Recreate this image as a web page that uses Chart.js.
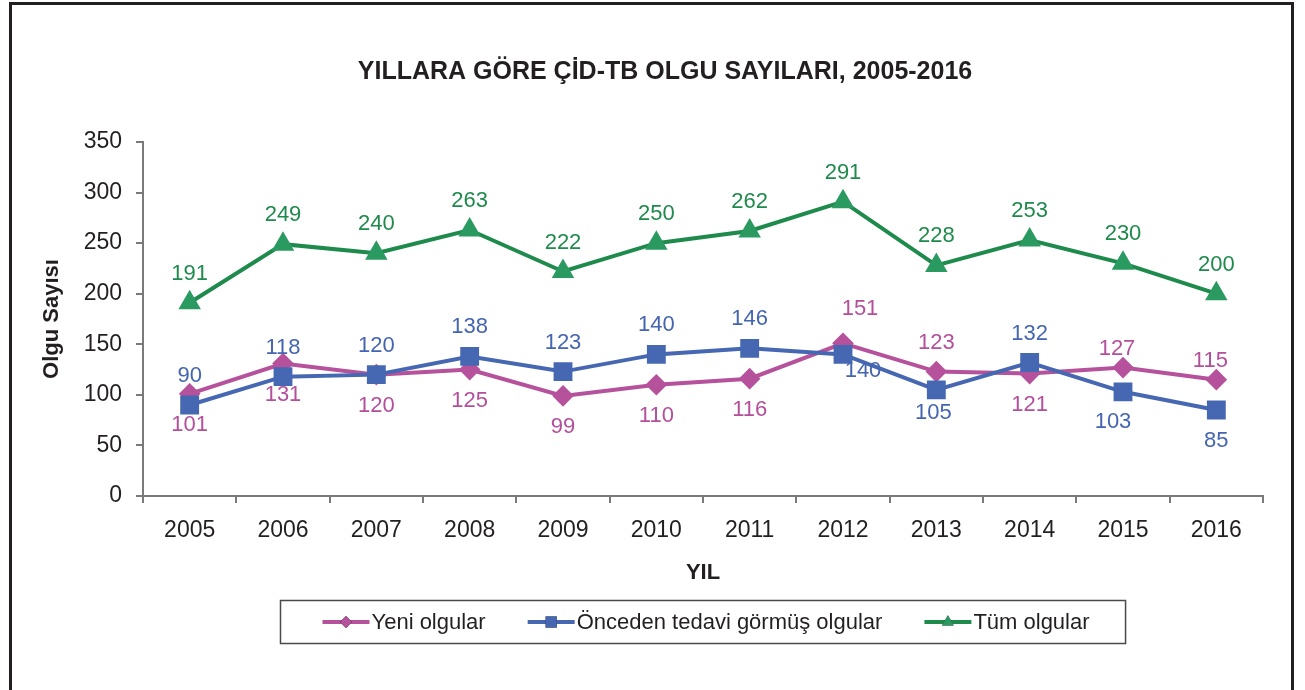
<!DOCTYPE html>
<html lang="tr">
<head>
  <meta charset="UTF-8" />
  <title>Yıllara Göre ÇİD-TB Olgu Sayıları</title>
  <script src="https://cdn.jsdelivr.net/npm/chart.js"></script>
  <style>
    html, body { margin: 0; padding: 0; background: #fff; }
    #olguChart { display: block; }
  </style>
</head>
<body>
  <canvas id="olguChart" width="1305" height="690"></canvas>

  <script>
    // Veriler
    const YILLAR  = ['2005','2006','2007','2008','2009','2010','2011','2012','2013','2014','2015','2016'];
    const YENI    = [101, 131, 120, 125,  99, 110, 116, 151, 123, 121, 127, 115];
    const ONCEDEN = [ 90, 118, 120, 138, 123, 140, 146, 140, 105, 132, 103,  85];
    const TUM     = [191, 249, 240, 263, 222, 250, 262, 291, 228, 253, 230, 200];
    const Y_TICKS = [0, 50, 100, 150, 200, 250, 300, 350];
    const BASLIK  = 'YILLARA GÖRE ÇİD-TB OLGU SAYILARI, 2005-2016';

    // Etiket yerleri: a = üstte, b = altta, ar/br/al/bl = yana kaymış
    const YENI_YER    = ['b','b','b','b','b','b','b','ar','a','b','al','al'];
    const ONCEDEN_YER = ['a','a','a','a','a','a','a','br','bn','a','bl','b'];
    const TUM_YER     = ['a','a','a','a','a','a','a','a','a','a','a','a'];
    const YER = {
      a: [0, -29], b: [0, 31],
      ar: [17, -34], br: [20, 17],
      al: [-6, -19], bl: [-10, 30], bn: [-3, 23]
    };

    const YAZI = '"Liberation Sans", Arial, sans-serif';
    const KOYU = '#231f20';
    const EKSEN = '#7a7a7a';

    // dış çerçeve + başlık
    const cerceve = {
      id: 'cerceve',
      beforeDraw(chart) {
        const c = chart.ctx;
        c.save();
        c.fillStyle = '#fff';
        c.fillRect(0, 0, chart.width, chart.height);
        c.strokeStyle = KOYU;
        c.lineWidth = 3;
        c.strokeRect(10.5, 3.5, 1282, 740);
        c.fillStyle = KOYU;
        c.font = 'bold 25px ' + YAZI;
        c.textAlign = 'center';
        c.textBaseline = 'middle';
        c.fillText(BASLIK, 665, 72);
        c.restore();
      }
    };

    // veri etiketleri
    const etiketler = {
      id: 'etiketler',
      afterDatasetsDraw(chart) {
        const c = chart.ctx;
        c.save();
        c.font = '22px ' + YAZI;
        c.textAlign = 'center';
        c.textBaseline = 'middle';
        chart.data.datasets.forEach((ds, i) => {
          const meta = chart.getDatasetMeta(i);
          c.fillStyle = ds.etiketRenk;
          meta.data.forEach((pt, j) => {
            const [dx, dy] = YER[ds.yerler[j]];
            c.fillText(ds.data[j], pt.x + dx, pt.y + dy);
          });
        });
        c.restore();
      }
    };

    // çerçeveli açıklama kutusu
    const aciklama = {
      id: 'aciklama',
      afterDraw(chart) {
        const c = chart.ctx, a = chart.chartArea;
        c.save();
        c.font = '22px ' + YAZI;
        const cizgi = 47, ara = 2, bosluk = 42, solIc = 42, sagIc = 36;
        const dsler = chart.data.datasets;
        const gen = dsler.map(ds => cizgi + ara + c.measureText(ds.label).width);
        const toplam = gen.reduce((s, w) => s + w, 0) + bosluk * (gen.length - 1);
        const kw = toplam + solIc + sagIc;
        const kx = Math.round((a.left + a.right) / 2 - kw / 2) + 0.5;
        const ky = chart.height - 89.5, kh = 43;
        c.strokeStyle = '#4a4a4a';
        c.lineWidth = 1.5;
        c.strokeRect(kx, ky, kw, kh);

        let x = kx + solIc;
        const y = ky + kh / 2;
        dsler.forEach((ds, i) => {
          c.strokeStyle = ds.borderColor;
          c.lineWidth = 4;
          c.beginPath();
          c.moveTo(x, y);
          c.lineTo(x + cizgi, y);
          c.stroke();
          Chart.helpers.drawPoint(c, {
            pointStyle: ds.pointStyle, rotation: 0,
            radius: ds.pointRadius * 0.75, borderWidth: 0
          }, x + cizgi / 2, y);
          c.fillStyle = ds.pointBackgroundColor;
          c.fill();
          c.fillStyle = KOYU;
          c.textAlign = 'left';
          c.textBaseline = 'middle';
          c.fillText(ds.label, x + cizgi + ara, y + 1);
          x += gen[i] + bosluk;
        });
        c.restore();
      }
    };

    const ctx = document.getElementById('olguChart').getContext('2d');
    new Chart(ctx, {
      type: 'line',
      data: {
        labels: YILLAR,
        datasets: [{
          label: 'Yeni olgular',
          data: YENI,
          yerler: YENI_YER,
          etiketRenk: '#b44f9b',
          borderColor: '#b6519c',
          backgroundColor: '#b6519c',
          pointBackgroundColor: '#b6519c',
          pointBorderColor: '#b6519c',
          pointStyle: 'rectRot',
          pointRadius: 8,
          borderWidth: 4,
          order: 2
        }, {
          label: 'Önceden tedavi görmüş olgular',
          data: ONCEDEN,
          yerler: ONCEDEN_YER,
          etiketRenk: '#4565b0',
          borderColor: '#4667b1',
          backgroundColor: '#4667b1',
          pointBackgroundColor: '#4667b1',
          pointBorderColor: '#4667b1',
          pointStyle: 'rect',
          pointRadius: 10.5,
          borderWidth: 4,
          order: 1
        }, {
          label: 'Tüm olgular',
          data: TUM,
          yerler: TUM_YER,
          etiketRenk: '#1e8a4c',
          borderColor: '#1e8a4c',
          backgroundColor: '#2a9a60',
          pointBackgroundColor: '#2a9a60',
          pointBorderColor: '#2a9a60',
          pointStyle: 'triangle',
          pointRadius: 9,
          borderWidth: 4,
          order: 3
        }]
      },
      options: {
        responsive: false,
        animation: false,
        layout: { padding: { left: 12, right: 42, top: 142, bottom: 100 } },
        elements: { line: { tension: 0 }, point: { borderWidth: 1 } },
        plugins: {
          legend: { display: false },
          tooltip: { enabled: false },
          title: { display: false }
        },
        scales: {
          x: {
            offset: true,
            grid: { offset: true, drawOnChartArea: false, tickLength: 7, color: EKSEN, lineWidth: 2 },
            border: { color: EKSEN, width: 2 },
            ticks: { color: KOYU, font: { family: YAZI, size: 23 }, padding: 14, maxRotation: 0, autoSkip: false },
            title: {
              display: true, text: 'YIL', color: KOYU,
              font: { family: YAZI, size: 22, weight: 'bold' },
              padding: { top: 0, bottom: 4 }
            },
            afterFit(s) { s.height = 94; }
          },
          y: {
            min: 0, max: 350,
            afterBuildTicks(s) { s.ticks = Y_TICKS.map(v => ({ value: v })); },
            grid: { drawOnChartArea: false, tickLength: 7, color: EKSEN, lineWidth: 2 },
            border: { color: EKSEN, width: 2 },
            ticks: { color: KOYU, font: { family: YAZI, size: 23 }, padding: 14 },
            title: {
              display: true, text: 'Olgu Sayısı', color: KOYU,
              font: { family: YAZI, size: 22, weight: 'bold' },
              padding: { top: 27, bottom: 0 }
            },
            afterFit(s) { s.width = 131; }
          }
        }
      },
      plugins: [cerceve, etiketler, aciklama]
    });
  </script>
</body>
</html>
